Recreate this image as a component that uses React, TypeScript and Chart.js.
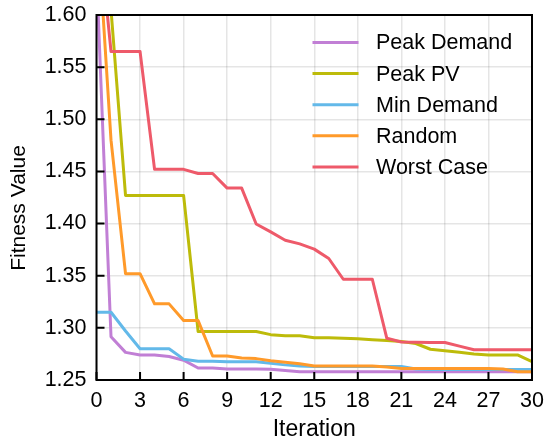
import React, { useEffect, useRef } from "react";
import { Chart, registerables } from "chart.js";

Chart.register(...registerables);

const iterations = [0, 1, 2, 3, 4, 5, 6, 7, 8, 9, 10, 11, 12, 13, 14, 15, 16, 17, 18, 19, 20, 21, 22, 23, 24, 25, 26, 27, 28, 29, 30];
const peakDemand = [1.642, 1.2915, 1.2765, 1.274, 1.274, 1.2725, 1.269, 1.2615, 1.2615, 1.2605, 1.2605, 1.2605, 1.2603, 1.259, 1.258, 1.258, 1.258, 1.258, 1.258, 1.258, 1.258, 1.258, 1.258, 1.258, 1.258, 1.258, 1.258, 1.258, 1.258, 1.258, 1.258];
const peakPV = [1.75, 1.605, 1.427, 1.427, 1.427, 1.427, 1.427, 1.2965, 1.2965, 1.2965, 1.2965, 1.2965, 1.2935, 1.2925, 1.2925, 1.2905, 1.2905, 1.29, 1.2895, 1.2885, 1.2878, 1.287, 1.285, 1.2795, 1.278, 1.2765, 1.275, 1.274, 1.274, 1.274, 1.2675];
const minDemand = [1.315, 1.315, 1.297, 1.28, 1.28, 1.28, 1.27, 1.268, 1.268, 1.2675, 1.2675, 1.2675, 1.266, 1.2645, 1.2635, 1.263, 1.263, 1.263, 1.263, 1.263, 1.263, 1.263, 1.2605, 1.26, 1.26, 1.26, 1.26, 1.26, 1.26, 1.26, 1.26];
const randomInit = [1.70, 1.48, 1.352, 1.352, 1.323, 1.323, 1.307, 1.307, 1.273, 1.273, 1.271, 1.2705, 1.2685, 1.267, 1.2655, 1.2635, 1.2635, 1.2635, 1.2635, 1.2635, 1.2625, 1.261, 1.261, 1.261, 1.261, 1.261, 1.261, 1.261, 1.2605, 1.258, 1.258];
const worstCase = [1.705, 1.565, 1.565, 1.565, 1.452, 1.452, 1.452, 1.448, 1.448, 1.434, 1.434, 1.3996, 1.392, 1.384, 1.3805, 1.3755, 1.3665, 1.3466, 1.3466, 1.3466, 1.29, 1.2865, 1.2862, 1.286, 1.286, 1.2825, 1.279, 1.279, 1.279, 1.279, 1.279];

const seriesNames = ["Peak Demand", "Peak PV", "Min Demand", "Random", "Worst Case"];
const seriesColors = ["#c17fd5", "#bdbb0a", "#63b9e9", "#ff9a2a", "#ee5a6a"];
const seriesValues = [peakDemand, peakPV, minDemand, randomInit, worstCase];

const xTicks = [0, 3, 6, 9, 12, 15, 18, 21, 24, 27, 30];
const yTicks = [1.25, 1.3, 1.35, 1.4, 1.45, 1.5, 1.55, 1.6];

const xTitle = "Iteration";
const yTitle = "Fitness Value";

const FONT = "'Liberation Sans', Arial, sans-serif";
const FS = 21.5;

const framePlugin = {
  id: "frame",
  afterDatasetsDraw(chart: any) {
    const { ctx, chartArea: a, scales } = chart;
    const xs = scales.x;
    const ys = scales.y;
    ctx.save();
    ctx.strokeStyle = "#000";
    ctx.lineWidth = 2;
    ctx.beginPath();
    xTicks.forEach((t) => {
      const px = xs.getPixelForValue(t);
      ctx.moveTo(px, a.bottom);
      ctx.lineTo(px, a.bottom - 8);
    });
    yTicks.forEach((t) => {
      const py = ys.getPixelForValue(t);
      ctx.moveTo(a.left, py);
      ctx.lineTo(a.left + 8, py);
    });
    ctx.stroke();
    ctx.lineWidth = 2;
    ctx.strokeRect(a.left, a.top, a.right - a.left, a.bottom - a.top);

    ctx.font = `${FS}px ${FONT}`;
    ctx.textBaseline = "middle";
    ctx.textAlign = "left";
    const lx0 = a.left + 216;
    const ly0 = a.top + 27.5;
    const step = 31.1;
    seriesNames.forEach((name, i) => {
      const y = ly0 + i * step;
      ctx.strokeStyle = seriesColors[i];
      ctx.lineWidth = 3;
      ctx.beginPath();
      ctx.moveTo(lx0, y);
      ctx.lineTo(lx0 + 46, y);
      ctx.stroke();
      ctx.fillStyle = "#000";
      ctx.fillText(name, lx0 + 63.5, y + 1);
    });

    ctx.fillStyle = "#000";
    ctx.textAlign = "center";
    ctx.textBaseline = "middle";
    ctx.font = `23px ${FONT}`;
    ctx.fillText(xTitle, (a.left + a.right) / 2, a.bottom + 50);
    ctx.font = `21px ${FONT}`;
    ctx.translate(19, a.top + 193);
    ctx.rotate(-Math.PI / 2);
    ctx.fillText(yTitle, 0, 0);
    ctx.restore();
  },
};

const zeroPad = (s: any) => {
  s.paddingLeft = 0;
  s.paddingRight = 0;
  s.paddingTop = 0;
  s.paddingBottom = 0;
};

export default function App() {
  const ref = useRef<HTMLCanvasElement | null>(null);
  useEffect(() => {
    if (!ref.current) return;
    const chart = new Chart(ref.current, {
      type: "line",
      data: {
        datasets: seriesNames.map((name, i) => ({
          label: name,
          data: seriesValues[i].map((v, j) => ({ x: iterations[j], y: v })),
          borderColor: seriesColors[i],
          backgroundColor: seriesColors[i],
          borderWidth: 3,
          pointRadius: 0,
          tension: 0,
          fill: false,
          borderJoinStyle: "round" as const,
          order: seriesNames.length - 1 - i,
          clip: 0,
        })),
      },
      options: {
        responsive: false,
        animation: false,
        events: [],
        layout: { padding: { top: 15, right: 12, left: 0, bottom: 0 } },
        plugins: { legend: { display: false }, tooltip: { enabled: false } },
        scales: {
          x: {
            type: "linear",
            min: 0,
            max: 30,
            afterBuildTicks: (s: any) => {
              s.ticks = xTicks.map((v) => ({ value: v }));
            },
            afterFit: (s: any) => {
              s.height = 63;
              zeroPad(s);
            },
            ticks: {
              padding: 8,
              color: "#000",
              font: { family: FONT, size: FS },
              maxRotation: 0,
              autoSkip: false,
              callback: (v: any) => String(v),
            },
            grid: { color: "rgba(0,0,0,0.1)", lineWidth: 1.5, drawTicks: false },
            border: { display: false },
          },
          y: {
            type: "linear",
            min: 1.25,
            max: 1.6,
            afterBuildTicks: (s: any) => {
              s.ticks = yTicks.map((v) => ({ value: v }));
            },
            afterFit: (s: any) => {
              s.width = 96.5;
              zeroPad(s);
            },
            ticks: {
              padding: 10,
              color: "#000",
              font: { family: FONT, size: FS },
              autoSkip: false,
              callback: (v: any) => Number(v).toFixed(2),
            },
            grid: { color: "rgba(0,0,0,0.1)", lineWidth: 1.5, drawTicks: false },
            border: { display: false },
          },
        },
      },
      plugins: [framePlugin],
    });
    return () => chart.destroy();
  }, []);
  return (
    <div style={{ position: "absolute", left: 0, top: 0, width: 544, height: 443, background: "#fff" }}>
      <canvas ref={ref} width={544} height={443} style={{ width: 544, height: 443 }} />
    </div>
  );
}
